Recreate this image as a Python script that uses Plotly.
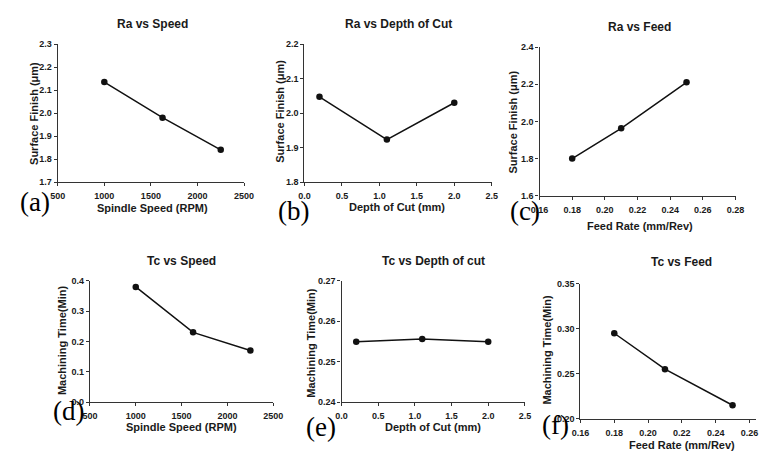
import plotly.graph_objects as go

# ---- data ----
speed = [1000, 1625, 2250]
ra_speed = [2.135, 1.98, 1.84]
doc = [0.2, 1.1, 2.0]
ra_doc = [2.047, 1.923, 2.03]
feed = [0.18, 0.21, 0.25]
ra_feed = [1.80, 1.963, 2.21]
tc_speed = [0.38, 0.23, 0.17]
tc_doc = [0.2549, 0.2556, 0.2549]
tc_feed = [0.295, 0.255, 0.215]

W, H = 766, 456
def px(x): return x / W
def py(y): return 1 - y / H

FONT = "Liberation Sans, Arial, sans-serif"
TXT = "#1a1a1a"

panels = [
    dict(x=speed, y=ra_speed, xb=(50, 241), yb=(40, 181), xr=[500, 2500], xd=500, xf="d",
         yr=[1.7, 2.3], yd=0.1, yf=".1f", t="Ra vs Speed", tp=(147, 19),
         xt="Spindle Speed (RPM)", xtp=(147, 208), yt="Surface Finish (\u03bcm)", ytp=(25, 111),
         lab="(a)", lp=(27, 201)),
    dict(x=doc, y=ra_doc, xb=(303, 495), yb=(40, 181), xr=[0, 2.5], xd=0.5, xf=".1f",
         yr=[1.8, 2.2], yd=0.1, yf=".1f", t="Ra vs Depth of Cut", tp=(399, 19),
         xt="Depth of Cut (mm)", xtp=(398, 207), yt="Surface Finish (\u03bcm)", ytp=(277, 109),
         lab="(b)", lp=(292, 211)),
    dict(x=feed, y=ra_feed, xb=(544, 745), yb=(43, 195), xr=[0.16, 0.28], xd=0.02, xf=".2f",
         yr=[1.6, 2.4], yd=0.2, yf=".1f", t="Ra vs Feed", tp=(647, 22),
         xt="Feed Rate (mm/Rev)", xtp=(647, 226), yt="Surface Finish (\u03bcm)", ytp=(517, 120),
         lab="(c)", lp=(529, 211)),
    dict(x=speed, y=tc_speed, xb=(83, 271), yb=(282, 406), xr=[500, 2500], xd=500, xf="d",
         yr=[0, 0.4], yd=0.1, yf=".1f", t="Tc vs Speed", tp=(177, 262),
         xt="Spindle Speed (RPM)", xtp=(177, 431), yt="Machining Time(Min)", ytp=(55, 343),
         lab="(d)", lp=(61, 415)),
    dict(x=doc, y=tc_doc, xb=(341, 529), yb=(282, 406), xr=[0, 2.5], xd=0.5, xf=".1f",
         yr=[0.24, 0.27], yd=0.01, yf=".2f", t="Tc vs Depth of cut", tp=(435, 262),
         xt="Depth of Cut (mm)", xtp=(435, 431), yt="Machining Time(Min)", ytp=(310, 345),
         lab="(e)", lp=(320, 431)),
    dict(x=feed, y=tc_feed, xb=(586, 766), yb=(285, 423), xr=[0.16, 0.16 + 180 / 1733], xd=0.02, xf=".2f",
         yr=[0.20, 0.35], yd=0.05, yf=".2f", t="Tc vs Feed", tp=(690, 263),
         xt="Feed Rate (mm/Rev)", xtp=(690, 450), yt="Machining Time(Min)", ytp=(552, 352),
         lab="(f)", lp=(560, 429)),
]

fig = go.Figure()
annotations = []
layout = {}
for i, p in enumerate(panels, start=1):
    xa = "x" if i == 1 else f"x{i}"
    ya = "y" if i == 1 else f"y{i}"
    fig.add_trace(go.Scatter(
        x=p["x"], y=p["y"], xaxis=xa, yaxis=ya, mode="lines+markers",
        line=dict(color="#111111", width=1.5),
        marker=dict(color="#111111", size=6.5),
        showlegend=False, cliponaxis=False))
    axis_common = dict(showgrid=False, zeroline=False, showline=True, linecolor="#333333",
                       linewidth=1.3, ticks="outside", ticklen=3, tickwidth=1.3, tickcolor="#333333",
                       tickfont=dict(family=FONT, size=9, color=TXT, weight="bold"))
    layout["xaxis" if i == 1 else f"xaxis{i}"] = dict(
        axis_common, domain=[px(p["xb"][0]), px(p["xb"][1])], range=p["xr"],
        dtick=p["xd"], tick0=p["xr"][0], tickformat=p["xf"], anchor=ya, ticklabelstandoff=2)
    layout["yaxis" if i == 1 else f"yaxis{i}"] = dict(
        axis_common, domain=[py(p["yb"][1]), py(p["yb"][0])], range=p["yr"],
        dtick=p["yd"], tick0=p["yr"][0], tickformat=p["yf"], anchor=xa, ticklabelstandoff=0)
    annotations.append(dict(text=p["t"], x=px(p["tp"][0]), y=py(p["tp"][1]), xref="paper", yref="paper",
                            showarrow=False, xanchor="center", yanchor="middle",
                            font=dict(family=FONT, size=12, color=TXT, weight="bold")))
    annotations.append(dict(text=p["xt"], x=px(p["xtp"][0]), y=py(p["xtp"][1]), xref="paper", yref="paper",
                            showarrow=False, xanchor="center", yanchor="middle",
                            font=dict(family=FONT, size=11, color=TXT, weight="bold")))
    annotations.append(dict(text=p["yt"], x=px(p["ytp"][0]), y=py(p["ytp"][1]), xref="paper", yref="paper",
                            showarrow=False, xanchor="center", yanchor="middle", textangle=-90,
                            font=dict(family=FONT, size=11, color=TXT, weight="bold")))
    annotations.append(dict(text=p["lab"], x=px(p["lp"][0]), y=py(p["lp"][1]), xref="paper", yref="paper",
                            showarrow=False, xanchor="center", yanchor="middle",
                            font=dict(family="Liberation Serif, Times New Roman, serif", size=27, color="#000000")))

fig.update_layout(width=W, height=H, margin=dict(l=0, r=0, t=0, b=0),
                  paper_bgcolor="white", plot_bgcolor="white",
                  annotations=annotations, **layout)
fig.write_html("out.html")
